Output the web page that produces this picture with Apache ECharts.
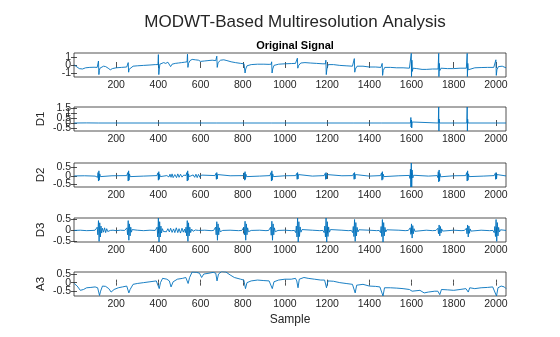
<!DOCTYPE html>
<html><head><meta charset="utf-8">
<script src="https://cdn.jsdelivr.net/npm/echarts@6/dist/echarts.min.js"></script>
<style>html,body{margin:0;padding:0;background:#fff}#c{width:560px;height:337px}</style>
</head><body><div id="c"></div>
<script>
// ---- Data (sample index, value) ----
const xTicks = [200,400,600,800,1000,1200,1400,1600,1800,2000];
const panelNames = ['', 'D1', 'D2', 'D3', 'A3'];
const yTicksOrig = [-1, 0, 1];
const yTicksD1 = [-0.5, 0, 0.5, 1, 1.5];
const yTicksD2 = [-0.5, 0, 0.5];
const yTicksD3 = [-0.5, 0, 0.5];
const yTicksA3 = [-0.5, 0, 0.5];

const original = [[1,0.0],[10,-0.1],[25,-0.45],[40,-0.5],[55,-0.35],[75,-0.3],[95,-0.28],[110,-0.3],[114,-0.2],[116,0.5],[118,-1.2],[120,-0.7],[123,-0.4],[130,-0.3],[140,-0.15],[150,-0.2],[162,-0.4],[172,-0.6],[182,-0.45],[200,-0.35],[225,-0.3],[250,-0.25],[255,-0.2],[257,0.3],[259,-0.9],[261,-0.55],[265,-0.3],[280,-0.15],[300,-0.1],[330,-0.05],[360,0.0],[385,0.05],[398,0.05],[400,1.3],[402,-1.2],[404,-0.6],[407,0.1],[415,0.2],[425,0.3],[435,0.2],[445,0.35],[452,0.15],[458,-0.2],[465,0.1],[472,0.35],[480,0.2],[488,0.45],[495,0.25],[502,0.5],[510,0.3],[518,0.55],[525,0.35],[532,0.5],[536,0.4],[538,1.35],[540,-0.3],[543,0.2],[550,0.55],[560,0.7],[575,0.65],[590,0.6],[600,0.45],[608,0.3],[618,0.5],[635,0.55],[655,0.6],[672,0.55],[675,0.4],[677,1.1],[679,-0.3],[683,0.3],[695,0.6],[710,0.65],[725,0.55],[745,0.4],[765,0.3],[790,0.2],[806,0.15],[809,0.3],[811,-1.0],[814,-0.5],[820,-0.1],[840,0.05],[870,0.1],[900,0.1],[925,0.08],[935,0.1],[937,0.4],[939,-1.0],[942,-0.5],[948,-0.05],[970,0.1],[1000,0.15],[1030,0.18],[1050,0.2],[1057,0.15],[1059,0.85],[1061,-0.4],[1064,-0.1],[1075,0.25],[1095,0.3],[1120,0.25],[1150,0.2],[1180,0.15],[1192,0.15],[1194,0.6],[1196,-1.2],[1199,-0.5],[1205,0.05],[1230,0.05],[1260,-0.05],[1290,-0.1],[1320,-0.15],[1327,-0.1],[1329,0.8],[1331,-0.9],[1334,-0.5],[1342,-0.15],[1370,-0.15],[1400,-0.25],[1430,-0.25],[1455,-0.3],[1459,-0.25],[1461,0.2],[1463,-1.3],[1466,-0.7],[1473,-0.3],[1500,-0.3],[1530,-0.35],[1560,-0.35],[1590,-0.4],[1597,-0.35],[1599,1.45],[1600,-1.45],[1602,0.6],[1604,-0.8],[1607,-0.4],[1625,-0.45],[1650,-0.55],[1670,-0.55],[1700,-0.5],[1726,-0.5],[1729,1.45],[1730,-1.45],[1732,0.2],[1734,-0.7],[1740,-0.4],[1770,-0.45],[1800,-0.45],[1830,-0.4],[1860,-0.4],[1864,1.45],[1865,-1.45],[1867,0.2],[1869,-0.6],[1875,-0.35],[1900,-0.35],[1930,-0.32],[1960,-0.3],[1990,-0.3],[1998,-0.25],[2000,0.65],[2002,-1.3],[2005,-0.6],[2012,-0.2],[2030,-0.15],[2048,-0.35]];

const d1 = [[1,0],[60,0.01],[115,0],[117,0.05],[118,-0.05],[120,0],[256,0],[258,0.06],[259,-0.05],[261,0],[399,0],[401,0.07],[402,-0.06],[404,0],[536,0],[538,0.06],[539,-0.05],[541,0],[674,0],[676,0.06],[677,-0.05],[679,0],[808,0],[810,0.05],[811,-0.04],[813,0],[935,0],[937,0.05],[938,-0.04],[940,0],[1057,0],[1059,0.05],[1060,-0.04],[1062,0],[1192,0],[1194,0.05],[1195,-0.04],[1197,0],[1327,0],[1329,0.05],[1330,-0.04],[1332,0],[1459,0],[1461,0.06],[1462,-0.05],[1464,0],[1595,0],[1597,0.55],[1598,-0.4],[1600,0.3],[1601,-0.5],[1603,0.1],[1605,0],[1727,0],[1729,1.6],[1730,-0.8],[1731,0.4],[1733,0],[1862,0],[1864,1.6],[1865,-0.8],[1866,0.4],[1868,0],[1998,0],[2000,0.15],[2001,-0.08],[2003,0],[2048,0]];

const d2 = [[1,0],[50,0.01],[100,-0.01],[109,0.02],[112,-0.08],[114,0.2],[116,-0.3],[118,0.3],[120,-0.25],[122,0.12],[125,-0.04],[129,0],[180,0.01],[250,0.02],[253,-0.08],[255,0.2],[257,-0.3],[259,0.3],[261,-0.25],[263,0.12],[266,-0.04],[270,0],[330,-0.01],[393,0.02],[396,-0.07],[398,0.18],[400,-0.25],[402,0.25],[404,-0.2],[406,0.1],[409,-0.04],[413,0],[440,0.02],[450,-0.06],[455,0.1],[460,-0.08],[465,0.12],[470,-0.1],[478,0.08],[486,-0.1],[492,0.12],[498,-0.08],[505,0.1],[512,-0.07],[520,0.05],[530,0.02],[533,-0.08],[535,0.2],[537,-0.3],[539,0.3],[541,-0.25],[543,0.12],[546,-0.04],[550,0],[565,0.06],[572,-0.08],[578,0.1],[584,-0.1],[590,0.09],[597,-0.08],[604,0.05],[612,0],[668,0.02],[671,-0.06],[673,0.15],[675,-0.2],[677,0.2],[679,-0.18],[681,0.08],[684,-0.03],[688,0],[740,0.01],[802,0.02],[805,-0.07],[807,0.18],[809,-0.25],[811,0.25],[813,-0.2],[815,0.1],[818,-0.04],[822,0],[880,-0.01],[929,0.02],[932,-0.08],[934,0.2],[936,-0.3],[938,0.3],[940,-0.25],[942,0.12],[945,-0.04],[949,0],[1000,0.01],[1051,0.02],[1054,-0.06],[1056,0.15],[1058,-0.2],[1060,0.2],[1062,-0.18],[1064,0.08],[1067,-0.03],[1071,0],[1130,-0.01],[1186,0.02],[1189,-0.06],[1191,0.15],[1193,-0.2],[1195,0.2],[1197,-0.18],[1199,0.08],[1202,-0.03],[1206,0],[1270,0.01],[1321,0.02],[1324,-0.06],[1326,0.15],[1328,-0.2],[1330,0.2],[1332,-0.18],[1334,0.08],[1337,-0.03],[1341,0],[1400,-0.01],[1453,0.02],[1456,-0.07],[1458,0.18],[1460,-0.25],[1462,0.25],[1464,-0.2],[1466,0.1],[1469,-0.04],[1473,0],[1540,0.01],[1590,0.03],[1593,-0.15],[1595,0.4],[1597,-0.65],[1599,0.76],[1601,-0.65],[1603,0.35],[1606,-0.12],[1610,0.04],[1614,0],[1680,-0.01],[1722,0.02],[1725,-0.1],[1727,0.25],[1729,-0.35],[1731,0.35],[1733,-0.3],[1735,0.14],[1738,-0.05],[1742,0],[1800,0.01],[1857,0.02],[1860,-0.08],[1862,0.2],[1864,-0.3],[1866,0.3],[1868,-0.25],[1870,0.12],[1873,-0.04],[1877,0],[1940,-0.01],[1992,0.02],[1995,-0.06],[1997,0.15],[1999,-0.2],[2001,0.2],[2003,-0.18],[2005,0.08],[2008,-0.03],[2012,0],[2048,0]];

const d3 = [[1,0],[30,0.01],[60,-0.01],[90,0],[100,0.01],[104,0.05],[107,-0.08],[110,0.15],[113,-0.2],[116,0.45],[119,-0.5],[122,0.35],[125,-0.3],[128,0.2],[131,-0.12],[135,0.1],[140,-0.08],[145,0.12],[150,-0.1],[155,0.08],[160,-0.05],[166,0.03],[172,0],[185,0.01],[200,-0.01],[220,0.01],[240,0],[244,0.02],[248,-0.06],[251,0.12],[254,-0.2],[257,0.45],[260,-0.45],[263,0.3],[266,-0.25],[269,0.15],[272,-0.08],[276,0.04],[282,0],[300,0.01],[330,-0.01],[360,0.01],[385,0],[387,0.03],[391,-0.08],[394,0.15],[397,-0.3],[400,0.57],[403,-0.53],[406,0.4],[409,-0.3],[412,0.2],[415,-0.12],[419,0.08],[424,-0.05],[430,0.04],[438,-0.06],[445,0.08],[452,-0.07],[458,0.1],[465,-0.09],[472,0.07],[478,-0.1],[485,0.12],[492,-0.1],[498,0.08],[505,-0.12],[512,0.1],[518,-0.08],[524,0.06],[528,-0.1],[531,0.15],[534,-0.25],[537,0.45],[540,-0.5],[543,0.35],[546,-0.25],[549,0.15],[553,-0.1],[558,0.06],[565,-0.04],[575,0.02],[590,0],[620,0.01],[650,-0.01],[662,0],[664,0.03],[668,-0.08],[671,0.15],[674,-0.2],[677,0.4],[680,-0.45],[683,0.3],[686,-0.2],[689,0.12],[693,-0.06],[698,0.03],[705,0],[740,0.01],[780,-0.01],[796,0],[798,0.03],[802,-0.08],[805,0.15],[808,-0.2],[811,0.42],[814,-0.45],[817,0.3],[820,-0.2],[823,0.12],[827,-0.06],[832,0.03],[840,0],[880,0.01],[910,-0.01],[923,0],[925,0.03],[929,-0.08],[932,0.15],[935,-0.22],[938,0.42],[941,-0.45],[944,0.3],[947,-0.2],[950,0.12],[954,-0.06],[959,0.03],[967,0],[1000,0.01],[1030,-0.01],[1045,0],[1047,0.03],[1051,-0.1],[1054,0.2],[1057,-0.3],[1060,0.57],[1063,-0.53],[1066,0.4],[1069,-0.28],[1072,0.16],[1076,-0.08],[1081,0.04],[1090,0],[1130,0.01],[1165,-0.01],[1180,0],[1182,0.03],[1186,-0.1],[1189,0.2],[1192,-0.3],[1195,0.57],[1198,-0.53],[1201,0.4],[1204,-0.28],[1207,0.16],[1211,-0.08],[1216,0.04],[1225,0],[1270,0.01],[1300,-0.01],[1315,0],[1317,0.03],[1321,-0.1],[1324,0.18],[1327,-0.28],[1330,0.5],[1333,-0.5],[1336,0.36],[1339,-0.25],[1342,0.14],[1346,-0.07],[1351,0.03],[1360,0],[1400,0.01],[1435,-0.01],[1447,0],[1449,0.03],[1453,-0.1],[1456,0.18],[1459,-0.28],[1462,0.5],[1465,-0.53],[1468,0.36],[1471,-0.25],[1474,0.14],[1478,-0.07],[1483,0.03],[1492,0],[1540,0.01],[1570,-0.01],[1585,0],[1587,0.02],[1591,-0.06],[1594,0.12],[1597,-0.18],[1600,0.3],[1603,-0.35],[1606,0.22],[1609,-0.15],[1612,0.08],[1616,-0.04],[1622,0],[1670,0.01],[1700,-0.01],[1716,0],[1718,0.02],[1722,-0.05],[1725,0.1],[1728,-0.15],[1731,0.25],[1734,-0.25],[1737,0.18],[1740,-0.12],[1743,0.07],[1747,-0.03],[1752,0],[1800,0.01],[1835,-0.01],[1851,0],[1853,0.02],[1857,-0.05],[1860,0.1],[1863,-0.15],[1866,0.25],[1869,-0.3],[1872,0.2],[1875,-0.13],[1878,0.07],[1882,-0.03],[1887,0],[1930,0.01],[1970,-0.01],[1986,0],[1988,0.03],[1992,-0.1],[1995,0.18],[1998,-0.28],[2001,0.5],[2004,-0.5],[2007,0.36],[2010,-0.25],[2013,0.14],[2017,-0.07],[2022,0.03],[2030,0],[2048,0]];

const a3 = [[1,-0.05],[15,-0.2],[30,-0.45],[45,-0.4],[60,-0.3],[80,-0.28],[100,-0.25],[112,-0.3],[117,-0.55],[121,-0.75],[126,-0.5],[135,-0.2],[150,-0.22],[165,-0.35],[176,-0.55],[190,-0.4],[210,-0.3],[230,-0.25],[250,-0.2],[255,-0.3],[260,-0.6],[266,-0.4],[280,-0.1],[300,-0.05],[330,0.0],[360,0.05],[390,0.1],[398,0.05],[404,-0.35],[410,0.0],[420,0.25],[440,0.2],[452,0.1],[460,-0.25],[470,0.05],[490,0.2],[515,0.25],[530,0.3],[536,0.2],[541,-0.05],[548,0.3],[560,0.62],[580,0.6],[595,0.55],[605,0.3],[615,0.5],[640,0.55],[660,0.6],[672,0.55],[678,0.1],[685,0.5],[700,0.65],[720,0.62],[740,0.45],[760,0.3],[790,0.2],[805,0.15],[813,-0.35],[820,0.0],[840,0.1],[870,0.15],[900,0.12],[925,0.1],[933,0.0],[940,-0.35],[948,0.05],[970,0.15],[1000,0.2],[1030,0.2],[1050,0.25],[1056,0.1],[1062,-0.3],[1068,0.2],[1090,0.3],[1110,0.25],[1140,0.2],[1170,0.15],[1188,0.15],[1197,-0.3],[1204,0.1],[1230,0.08],[1260,0.0],[1290,-0.05],[1320,-0.1],[1326,-0.2],[1333,-0.6],[1340,-0.15],[1370,-0.1],[1400,-0.2],[1430,-0.22],[1450,-0.25],[1457,-0.35],[1465,-0.78],[1472,-0.3],[1500,-0.3],[1530,-0.32],[1560,-0.35],[1590,-0.4],[1596,-0.35],[1603,-0.5],[1610,-0.4],[1640,-0.45],[1660,-0.6],[1680,-0.55],[1710,-0.5],[1725,-0.5],[1734,-0.7],[1742,-0.4],[1770,-0.42],[1800,-0.45],[1830,-0.4],[1858,-0.35],[1869,-0.55],[1876,-0.3],[1900,-0.35],[1930,-0.3],[1960,-0.28],[1985,-0.25],[1993,-0.3],[2003,-0.78],[2010,-0.3],[2025,-0.2],[2040,-0.25],[2048,-0.35]];

// ---- Layout ----
const seriesList = [original, d1, d2, d3, a3];
const yTicksList = [yTicksOrig, yTicksD1, yTicksD2, yTicksD3, yTicksA3];
const yRanges = [[-1.5,1.5],[-0.8,1.6],[-0.65,0.76],[-0.53,0.57],[-0.78,0.62]];
const tops = [53, 107, 163, 218, 272];
const FONT = 'Liberation Sans, Arial, Helvetica, sans-serif';
const TXT = '#262626';
const LINE = '#0072BD';
const fmt = v => String(Math.round(v * 100) / 100);

const grid = [], xAxis = [], yAxis = [], series = [];
for (let i = 0; i < 5; i++) {
  grid.push({left: 74, right: 54, top: tops[i], height: 24, show: true, borderColor: TXT, borderWidth: 0.8, backgroundColor: '#fff'});
  const xBase = {gridIndex: i, type: 'value', min: 0, max: 2048,
    axisLine: {show: false}, splitLine: {show: false},
    axisTick: {show: true, inside: true, length: 3, customValues: xTicks, lineStyle: {color: TXT, width: 0.8}}};
  xAxis.push(Object.assign({}, xBase, {position: 'bottom',
    name: i === 4 ? 'Sample' : '', nameLocation: 'middle', nameGap: 18,
    nameTextStyle: {fontFamily: FONT, fontSize: 12, color: TXT},
    axisLabel: {show: true, customValues: xTicks, formatter: fmt, hideOverlap: false, margin: 3, fontFamily: FONT, fontSize: 10.5, color: TXT}}));
  xAxis.push(Object.assign({}, xBase, {position: 'top', axisLabel: {show: false}}));
  const yBase = {gridIndex: i, type: 'value', min: yRanges[i][0], max: yRanges[i][1],
    axisLine: {show: false}, splitLine: {show: false}};
  const mainY = yAxis.length;
  // left axis carries ticks and the panel name
  yAxis.push(Object.assign({}, yBase, {position: 'left',
    axisTick: {show: true, inside: true, length: 3, customValues: yTicksList[i], lineStyle: {color: TXT, width: 0.8}},
    name: panelNames[i], nameLocation: 'middle', nameGap: 27, nameRotate: 90,
    nameTextStyle: {fontFamily: FONT, fontSize: 11.5, color: TXT},
    axisLabel: {show: false}}));
  yAxis.push(Object.assign({}, yBase, {position: 'right',
    axisTick: {show: true, inside: true, length: 3, customValues: yTicksList[i], lineStyle: {color: TXT, width: 0.8}},
    axisLabel: {show: false}}));
  // one label per axis so overlapping labels are all drawn (as in the reference)
  yTicksList[i].forEach(t => {
    yAxis.push(Object.assign({}, yBase, {position: 'left', axisTick: {show: false},
      axisLabel: {show: true, customValues: [t], formatter: fmt, margin: 3, fontFamily: FONT, fontSize: 10.5, color: TXT}}));
  });
  series.push({type: 'line', xAxisIndex: 2 * i, yAxisIndex: mainY, data: seriesList[i],
    symbol: 'none', sampling: null, clip: true, lineStyle: {color: LINE, width: 0.9}});
}

const chart = echarts.init(document.getElementById('c'), null, {renderer: 'canvas'});
chart.setOption({
  animation: false,
  backgroundColor: '#fff',
  title: [
    {text: 'MODWT-Based Multiresolution Analysis', left: 290, top: 9, textAlign: 'center',
     textStyle: {fontFamily: FONT, fontSize: 17, fontWeight: 'normal', color: TXT}},
    {text: 'Original Signal', left: 290, top: 35, textAlign: 'center',
     textStyle: {fontFamily: FONT, fontSize: 11, fontWeight: 'bold', color: '#000'}}
  ],
  grid, xAxis, yAxis, series
});
</script></body></html>
